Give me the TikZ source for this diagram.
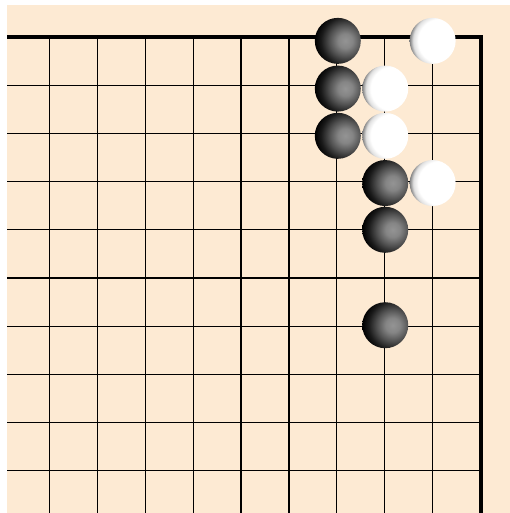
\documentclass[tikz,border=0pt]{standalone}
\usetikzlibrary{calc}
\definecolor{boardtan}{RGB}{253,234,211}
\pgfdeclareradialshading{blackstone}{\pgfpoint{0bp}{0bp}}{color(0bp)=(black!42); color(6bp)=(black!48); color(13bp)=(black!68); color(20bp)=(black!90); color(25bp)=(black); color(50bp)=(black)}
\pgfdeclareradialshading{whitestone}{\pgfpoint{0bp}{0bp}}{color(0bp)=(white); color(18bp)=(white); color(22bp)=(black!12); color(25bp)=(black!50); color(50bp)=(black!50)}
\newcommand{\putstone}[2]{%
  \begin{scope}
    \clip (#2) circle (0.46cm);
    \shade[shading=#1] ($(#2)+(0.15cm,0)$) circle (0.61cm);
  \end{scope}}

\begin{document}
\begin{tikzpicture}[x=0.958cm,y=0.964cm]
  \useasboundingbox (-0.033,0.124) rectangle (10.614,10.768);
  \fill[white] (-0.033,0.124) rectangle (10.614,10.768);
  \fill[boardtan] (0.119,0.124) rectangle (10.614,10.670);
  % board lines
  \foreach \k in {1,...,9} {
    \draw[line width=0.65pt] (\k,0.124) -- (\k,10);
    \draw[line width=0.65pt] (0.119,\k) -- (10,\k);
  }
  \draw[line width=2.3pt] (0.119,10) -- (10,10) -- (10,0.124);
  % stones
  \coordinate (b1) at (7.02,9.92);
  \coordinate (w1) at (9.00,9.92);
  \coordinate (b2) at (7.02,8.93);
  \coordinate (w2) at (8.01,8.93);
  \coordinate (b3) at (7.02,7.95);
  \coordinate (w3) at (8.01,7.95);
  \coordinate (b4) at (8.01,6.97);
  \coordinate (w4) at (9.00,6.97);
  \coordinate (b5) at (8.01,6.00);
  \coordinate (b6) at (8.01,4.02);
  \putstone{blackstone}{b1}
  \putstone{whitestone}{w1}
  \putstone{blackstone}{b2}
  \putstone{whitestone}{w2}
  \putstone{blackstone}{b3}
  \putstone{whitestone}{w3}
  \putstone{blackstone}{b4}
  \putstone{whitestone}{w4}
  \putstone{blackstone}{b5}
  \putstone{blackstone}{b6}
\end{tikzpicture}
\end{document}
